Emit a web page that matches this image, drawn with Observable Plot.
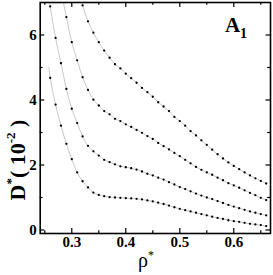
<!DOCTYPE html>
<html><head><meta charset="utf-8">
<script src="https://cdn.jsdelivr.net/npm/d3@7"></script>
<script src="https://cdn.jsdelivr.net/npm/@observablehq/plot@0.6"></script>
<style>body{margin:0;background:#fff;} svg{display:block;}</style>
</head><body><div id="chart"></div>
<script>
// ---- data ----
const rhoA = [0.26,0.27,0.28,0.29,0.30,0.31,0.32,0.33,0.34,0.35,0.36,0.37,0.38,0.39,0.40,0.41,0.42,0.43,0.44,0.45,0.46,0.47,0.48,0.49,0.50,0.51,0.52,0.53,0.54,0.55,0.56,0.57,0.58,0.59,0.60,0.61,0.62,0.63,0.64,0.65,0.66];
const dA   = [4.68,3.86,3.21,2.65,2.18,1.77,1.50,1.31,1.15,1.08,1.04,1.01,1.00,0.99,0.98,0.97,0.96,0.94,0.91,0.88,0.84,0.80,0.75,0.70,0.65,0.61,0.57,0.53,0.49,0.45,0.41,0.37,0.34,0.30,0.27,0.25,0.22,0.19,0.17,0.15,0.12];
const rhoB = [0.26,0.27,0.28,0.29,0.30,0.31,0.32,0.33,0.34,0.35,0.36,0.37,0.38,0.39,0.40,0.41,0.42,0.43,0.44,0.45,0.46,0.47,0.48,0.49,0.50,0.51,0.52,0.53,0.54,0.55,0.56,0.57,0.58,0.59,0.60,0.61,0.62,0.63,0.64,0.65,0.66];
const dB   = [6.88,5.91,5.13,4.34,3.73,3.29,2.88,2.59,2.42,2.29,2.16,2.09,2.02,1.96,1.93,1.90,1.86,1.80,1.73,1.68,1.61,1.55,1.47,1.40,1.32,1.26,1.19,1.12,1.06,1.00,0.95,0.89,0.83,0.77,0.72,0.67,0.62,0.57,0.53,0.49,0.45];
const rhoC = [0.29,0.30,0.31,0.32,0.33,0.34,0.35,0.36,0.37,0.38,0.39,0.40,0.41,0.42,0.43,0.44,0.45,0.46,0.47,0.48,0.49,0.50,0.51,0.52,0.53,0.54,0.55,0.56,0.57,0.58,0.59,0.60,0.61,0.62,0.63,0.64,0.65,0.66];
const dC   = [6.55,5.78,5.22,4.70,4.31,4.01,3.83,3.66,3.56,3.42,3.35,3.25,3.17,3.08,2.99,2.89,2.80,2.68,2.58,2.48,2.37,2.27,2.16,2.05,1.94,1.85,1.77,1.70,1.61,1.53,1.44,1.37,1.30,1.22,1.14,1.07,0.99,0.92];
const rhoD = [0.32,0.33,0.34,0.35,0.36,0.37,0.38,0.39,0.40,0.41,0.42,0.43,0.44,0.45,0.46,0.47,0.48,0.49,0.50,0.51,0.52,0.53,0.54,0.55,0.56,0.57,0.58,0.59,0.60,0.61,0.62,0.63,0.64,0.65,0.66];
const dD   = [6.91,6.42,6.07,5.78,5.52,5.30,5.10,4.97,4.81,4.67,4.53,4.37,4.24,4.10,3.93,3.80,3.66,3.48,3.35,3.21,3.04,2.91,2.76,2.62,2.47,2.33,2.20,2.08,1.97,1.87,1.77,1.68,1.59,1.51,1.43];
// where each grey fitted line leaves the top of the picture
const seriesNames = ["A","B","C","D"];
const lineStartRho = [0.2575,0.2585,0.284,0.318];
const lineStartD   = [5.0,7.05,7.05,7.05];

const xTicks = [0.3,0.4,0.5,0.6];
const xMinorTicks = [0.25,0.35,0.45,0.55,0.65];
const yTicks = [0,2,4,6];
const yMinorTicks = [1,3,5];
const xDomain = [0.2415,0.668];
const yDomain = [-0.108,7.0];

// ---- tables ----
const series = [[rhoA,dA],[rhoB,dB],[rhoC,dC],[rhoD,dD]];
const pts = [];
series.forEach(([r,d],i)=>r.forEach((v,j)=>pts.push({s:seriesNames[i],rho:v,d:d[j]})));
const fit = [];
series.forEach(([r,d],i)=>{
  fit.push({s:seriesNames[i],rho:lineStartRho[i],d:lineStartD[i]});
  r.forEach((v,j)=>fit.push({s:seriesNames[i],rho:v,d:d[j]}));
});

const W=273,H=275,mL=39.7,mR=3,mT=2,mB=42;
const pw=W-mL-mR, ph=H-mT-mB;
const serif="'Liberation Serif','Times New Roman',serif";

const chart = Plot.plot({
  width:W,height:H,marginLeft:mL,marginRight:mR,marginTop:mT,marginBottom:mB,
  x:{domain:xDomain,axis:null},
  y:{domain:yDomain,axis:null},
  style:{fontFamily:serif,background:"#fff",color:"#000"},
  marks:[
    Plot.line(fit,{x:"rho",y:"d",z:"s",stroke:"#c8c8c8",strokeWidth:1,curve:"catmull-rom",clip:true}),
    Plot.dot(pts,{x:"rho",y:"d",r:1.15,fill:"#000",stroke:null,clip:true}),
    // inward ticks
    Plot.tickX(xTicks,{x:d=>d,insetTop:ph-5,stroke:"#000",strokeWidth:1.2}),
    Plot.tickX(xTicks,{x:d=>d,insetBottom:ph-5,stroke:"#000",strokeWidth:1.2}),
    Plot.tickX(xMinorTicks,{x:d=>d,insetTop:ph-2.8,stroke:"#000",strokeWidth:1.2}),
    Plot.tickX(xMinorTicks,{x:d=>d,insetBottom:ph-2.8,stroke:"#000",strokeWidth:1.2}),
    Plot.tickY(yTicks,{y:d=>d,insetRight:pw-4.5,stroke:"#000",strokeWidth:1.2}),
    Plot.tickY(yTicks,{y:d=>d,insetLeft:pw-4.5,stroke:"#000",strokeWidth:1.2}),
    Plot.tickY(yMinorTicks,{y:d=>d,insetRight:pw-2.8,stroke:"#000",strokeWidth:1.2}),
    Plot.tickY(yMinorTicks,{y:d=>d,insetLeft:pw-2.8,stroke:"#000",strokeWidth:1.2}),
    Plot.frame({stroke:"#000",strokeWidth:1.6}),
    Plot.axisX(xTicks,{anchor:"bottom",tickSize:0,tickPadding:3,fontSize:15,fontWeight:"bold",label:null,tickFormat:d=>d.toFixed(1)}),
    Plot.axisY(yTicks,{anchor:"left",tickSize:0,tickPadding:3.5,fontSize:15,fontWeight:"bold",label:null,tickFormat:d=>String(d)})
  ]
});
document.getElementById("chart").appendChild(chart);

// ---- titles with super/subscripts ----
const svg = d3.select(chart);
// y label
const yl = svg.append("text").attr("transform","translate(25,160) rotate(-90)")
  .attr("font-family",serif).attr("font-weight","bold").attr("font-size",22).attr("fill","#000");
yl.append("tspan").text("D");
yl.append("tspan").attr("font-size",13).attr("dy",-10).text("*");
yl.append("tspan").attr("dy",10).text("( 10");
yl.append("tspan").attr("font-size",13).attr("dy",-10).text("-2");
yl.append("tspan").attr("dy",10).text(" )");
// x label
const xl = svg.append("text").attr("x",146).attr("y",267)
  .attr("font-family",serif).attr("font-size",20).attr("fill","#000");
xl.append("tspan").text("ρ");
xl.append("tspan").attr("font-size",12).attr("dy",-8).text("*");
// panel label
const pl = svg.append("text").attr("x",236).attr("y",32)
  .attr("font-family",serif).attr("font-weight","bold").attr("font-size",21).attr("fill","#000");
pl.append("tspan").text("A");
pl.append("tspan").attr("font-size",14).attr("dy",6).text("1");
</script></body></html>
